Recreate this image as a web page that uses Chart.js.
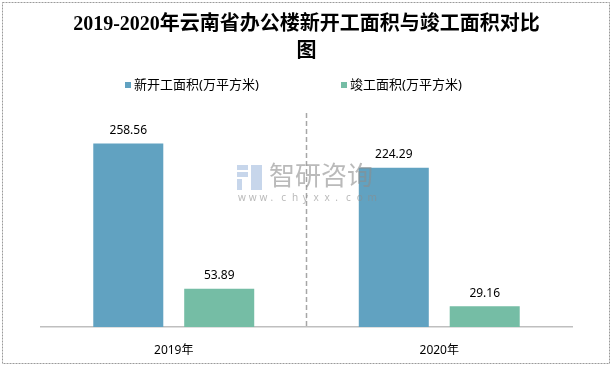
<!DOCTYPE html>
<html>
<head>
<meta charset="utf-8">
<script src="https://cdn.jsdelivr.net/npm/chart.js@4/dist/chart.umd.min.js"></script>
<style>
  html, body { margin: 0; padding: 0; background: #fff; }
  #wrap { width: 614px; height: 368px; }
</style>
</head>
<body>
<div id="wrap"><canvas id="c" width="614" height="368"></canvas></div>
<script>
const years = ['2019年', '2020年'];
const newStart = [258.56, 224.29];
const completed = [53.89, 29.16];
const seriesNames = ['新开工面积(万平方米)', '竣工面积(万平方米)'];
const colors = ['#61A2C1', '#75BDA5'];

const sansFont = "'Noto Sans', 'Noto Sans CJK SC', sans-serif";

// labels above bars
const valueLabels = {
  id: 'valueLabels',
  afterDatasetsDraw(chart) {
    const ctx = chart.ctx;
    ctx.save();
    ctx.fillStyle = '#000';
    ctx.font = '12px ' + sansFont;
    ctx.textAlign = 'center';
    ctx.textBaseline = 'middle';
    chart.data.datasets.forEach((ds, i) => {
      chart.getDatasetMeta(i).data.forEach((bar, j) => {
        ctx.fillText(ds.data[j].toFixed(2), bar.x, bar.y - 13);
      });
    });
    ctx.restore();
  }
};

// dashed divider, legend, watermark, frame
const extras = {
  id: 'extras',
  beforeDatasetsDraw(chart) {
    const ctx = chart.ctx;
    const area = chart.chartArea;
    const x = chart.scales.x;
    const mid = (x.getPixelForValue(0) + x.getPixelForValue(1)) / 2;
    ctx.save();
    ctx.strokeStyle = '#a6a6a6';
    ctx.lineWidth = 1.5;
    ctx.setLineDash([5, 3]);
    ctx.beginPath();
    ctx.moveTo(mid, area.top - 1);
    ctx.lineTo(mid, area.bottom);
    ctx.stroke();
    ctx.restore();
  },
  afterDatasetsDraw(chart) {
    const ctx = chart.ctx;
    ctx.save();
    // watermark
    ctx.fillStyle = 'rgba(180,200,228,0.75)';
    ctx.fillRect(237, 165, 11, 5);
    ctx.fillRect(237, 172, 11, 5);
    ctx.fillRect(237, 179, 5, 11);
    ctx.fillRect(251, 165, 11, 25);
    ctx.fillStyle = 'rgba(140,140,140,0.6)';
    ctx.font = '26px ' + sansFont;
    ctx.textBaseline = 'middle';
    ctx.textAlign = 'left';
    ctx.fillText('智研咨询', 269, 178);
    ctx.font = '10px ' + sansFont;
    const site = 'www.chyxx.com';
    for (let k = 0; k < site.length; k++) ctx.fillText(site[k], 238 + k * 10.8, 198);
    ctx.restore();
  },
  afterDraw(chart) {
    const ctx = chart.ctx;
    ctx.save();
    // legend
    const lx = [125, 341];
    ctx.font = '13px ' + sansFont;
    ctx.textBaseline = 'middle';
    ctx.textAlign = 'left';
    chart.data.datasets.forEach((ds, i) => {
      ctx.fillStyle = ds.backgroundColor;
      ctx.fillRect(lx[i], 82, 6, 6);
      ctx.fillStyle = '#000';
      ctx.fillText(ds.label, lx[i] + 9, 85);
    });
    // outer frame
    ctx.strokeStyle = '#9a9a9a';
    ctx.lineWidth = 1;
    ctx.setLineDash([2, 1]);
    ctx.strokeRect(2.5, 2.5, 607, 361);
    ctx.restore();
  }
};

new Chart(document.getElementById('c'), {
  type: 'bar',
  data: {
    labels: years,
    datasets: [
      { label: seriesNames[0], data: newStart, backgroundColor: colors[0] },
      { label: seriesNames[1], data: completed, backgroundColor: colors[1] }
    ]
  },
  options: {
    responsive: false,
    animation: false,
    barPercentage: 0.77,
    categoryPercentage: 0.685,
    layout: { padding: { left: 41, right: 42, top: 0, bottom: 10 } },
    scales: {
      x: {
        grid: { display: false },
        border: { color: '#bfbfbf', width: 1.5 },
        ticks: { color: '#000', font: { size: 12, family: sansFont }, padding: 8 },
        afterFit(scale) { scale.height = 31; }
      },
      y: { display: false, min: 0, max: 300 }
    },
    plugins: {
      legend: { display: false },
      tooltip: { enabled: false },
      title: {
        display: true,
        text: ['2019-2020年云南省办公楼新开工面积与竣工面积对比', '图'],
        color: '#000',
        font: { size: 20, weight: 'bold', family: "'Liberation Serif', 'Noto Sans CJK SC', serif", lineHeight: 1.35 },
        padding: { top: 11, bottom: 49 }
      }
    }
  },
  plugins: [valueLabels, extras]
});
</script>
</body>
</html>
